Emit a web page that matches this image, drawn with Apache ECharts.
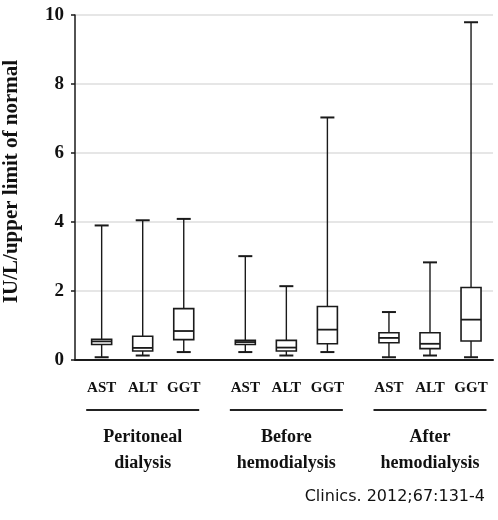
<!DOCTYPE html>
<html><head><meta charset="utf-8">
<script src="https://cdn.jsdelivr.net/npm/echarts@6/dist/echarts.min.js"></script>
<style>html,body{margin:0;padding:0;background:#fff}#c{width:498px;height:520px}</style>
</head><body><div id="c"></div>
<script>
// ---- data ----
const groups = ['Peritoneal\ndialysis', 'Before\nhemodialysis', 'After\nhemodialysis'];
const enzymes = ['AST', 'ALT', 'GGT'];
// each row: [min, Q1, median, Q3, max] for AST, ALT, GGT
const peritonealDialysis = [[0.08, 0.45, 0.54, 0.60, 3.90], [0.13, 0.26, 0.35, 0.69, 4.05], [0.23, 0.59, 0.84, 1.49, 4.09]];
const beforeHemodialysis = [[0.23, 0.45, 0.52, 0.57, 3.01], [0.13, 0.26, 0.36, 0.57, 2.14], [0.23, 0.47, 0.88, 1.55, 7.03]];
const afterHemodialysis = [[0.08, 0.50, 0.64, 0.79, 1.39], [0.13, 0.33, 0.47, 0.79, 2.83], [0.08, 0.55, 1.17, 2.10, 9.79]];
const yTicks = [0, 2, 4, 6, 8, 10];
const yTitle = 'IU/L/upper limit of normal';
const caption = 'Clinics. 2012;67:131-4';

// ---- layout helpers (slots on a category axis) ----
const groupData = [peritonealDialysis, beforeHemodialysis, afterHemodialysis];
const GROUP_STEP = 7, ITEM_STEP = 2;
const slotCount = (groups.length - 1) * GROUP_STEP + (enzymes.length - 1) * ITEM_STEP + 1;
const enzymeSlots = new Array(slotCount).fill('');
const groupSlots = new Array(slotCount).fill('');
const boxData = [];
groupData.forEach((g, gi) => {
  groupSlots[gi * GROUP_STEP + ITEM_STEP] = groups[gi];
  g.forEach((v, ei) => {
    const s = gi * GROUP_STEP + ei * ITEM_STEP;
    enzymeSlots[s] = enzymes[ei];
    boxData.push([s].concat(v));
  });
});

const INK = '#1a1a1a';
const SERIF = '"Liberation Serif", "Times New Roman", serif';

function renderItem(params, api) {
  const x = api.value(0);
  const pMin = api.coord([x, api.value(1)]);
  const pQ1 = api.coord([x, api.value(2)]);
  const pMed = api.coord([x, api.value(3)]);
  const pQ3 = api.coord([x, api.value(4)]);
  const pMax = api.coord([x, api.value(5)]);
  const cx = pMed[0];
  const bw = 20, cw = 14;
  const ln = (x1, y1, x2, y2, w) => ({ type: 'line', shape: { x1, y1, x2, y2 }, style: { stroke: INK, lineWidth: w } });
  return {
    type: 'group', children: [
      ln(cx, pMax[1], cx, pQ3[1], 1.4),
      ln(cx, pQ1[1], cx, pMin[1], 1.4),
      ln(cx - cw / 2, pMax[1], cx + cw / 2, pMax[1], 2),
      ln(cx - cw / 2, pMin[1], cx + cw / 2, pMin[1], 2),
      { type: 'rect', shape: { x: cx - bw / 2, y: pQ3[1], width: bw, height: pQ1[1] - pQ3[1] }, style: { fill: '#fff', stroke: INK, lineWidth: 1.6 } },
      ln(cx - bw / 2, pMed[1], cx + bw / 2, pMed[1], 1.8)
    ]
  };
}

const chart = echarts.init(document.getElementById('c'), null, { renderer: 'canvas' });
chart.setOption({
  backgroundColor: '#fff',
  animation: false,
  grid: [
    { left: 75, right: 5, top: 15, bottom: 160, containLabel: false, outerBoundsMode: 'none' },
    { left: 91.4, right: 16.7, top: 15, bottom: 160, containLabel: false, outerBoundsMode: 'none' }
  ],
  xAxis: [
    { gridIndex: 0, type: 'value', min: 0, max: 1, position: 'bottom',
      axisLine: { show: true, lineStyle: { color: INK, width: 2 } },
      axisTick: { show: false }, axisLabel: { show: false }, splitLine: { show: false } },
    { gridIndex: 1, type: 'category', data: enzymeSlots, position: 'bottom',
      axisLine: { show: false }, axisTick: { show: false }, splitLine: { show: false },
      axisLabel: { interval: 0, margin: 21, fontFamily: SERIF, fontWeight: 'bold', fontSize: 15, color: '#111' } },
    { gridIndex: 1, type: 'category', data: groupSlots, position: 'bottom',
      axisLine: { show: false }, axisTick: { show: false }, splitLine: { show: false },
      axisLabel: { interval: 0, margin: 49, formatter: v => v ? '{l|}' : '',
        rich: { l: { width: 113, height: 2, backgroundColor: '#222' } } } },
    { gridIndex: 1, type: 'category', data: groupSlots, position: 'bottom',
      axisLine: { show: false }, axisTick: { show: false }, splitLine: { show: false },
      axisLabel: { interval: 0, margin: 64, fontFamily: SERIF, fontWeight: 'bold', fontSize: 18, lineHeight: 26, color: '#111' } }
  ],
  yAxis: [
    { gridIndex: 0, type: 'value', min: yTicks[0], max: yTicks[yTicks.length - 1], interval: yTicks[1] - yTicks[0],
      name: yTitle, nameLocation: 'middle', nameGap: 53, nameRotate: 90,
      nameTextStyle: { fontFamily: SERIF, fontWeight: 'bold', fontSize: 21, color: '#111', padding: [0, 0, 0, 12] },
      axisLine: { show: true, lineStyle: { color: INK, width: 1.5 } },
      axisTick: { show: true, length: 4, lineStyle: { color: INK, width: 1.5 } },
      axisLabel: { margin: 11, fontFamily: SERIF, fontWeight: 'bold', fontSize: 19, color: '#111' },
      splitLine: { show: true, lineStyle: { color: '#dedede', width: 1.5 } } },
    { gridIndex: 1, type: 'value', min: yTicks[0], max: yTicks[yTicks.length - 1], show: false }
  ],
  series: [{
    type: 'custom', xAxisIndex: 1, yAxisIndex: 1,
    renderItem: renderItem,
    encode: { x: 0, y: [1, 2, 3, 4, 5] },
    data: boxData,
    clip: false
  }],
  graphic: [{
    type: 'text', right: 13, top: 489,
    style: { text: caption, font: '16px "DejaVu Sans", sans-serif', fill: '#111' }
  }]
});
</script>
</body></html>
